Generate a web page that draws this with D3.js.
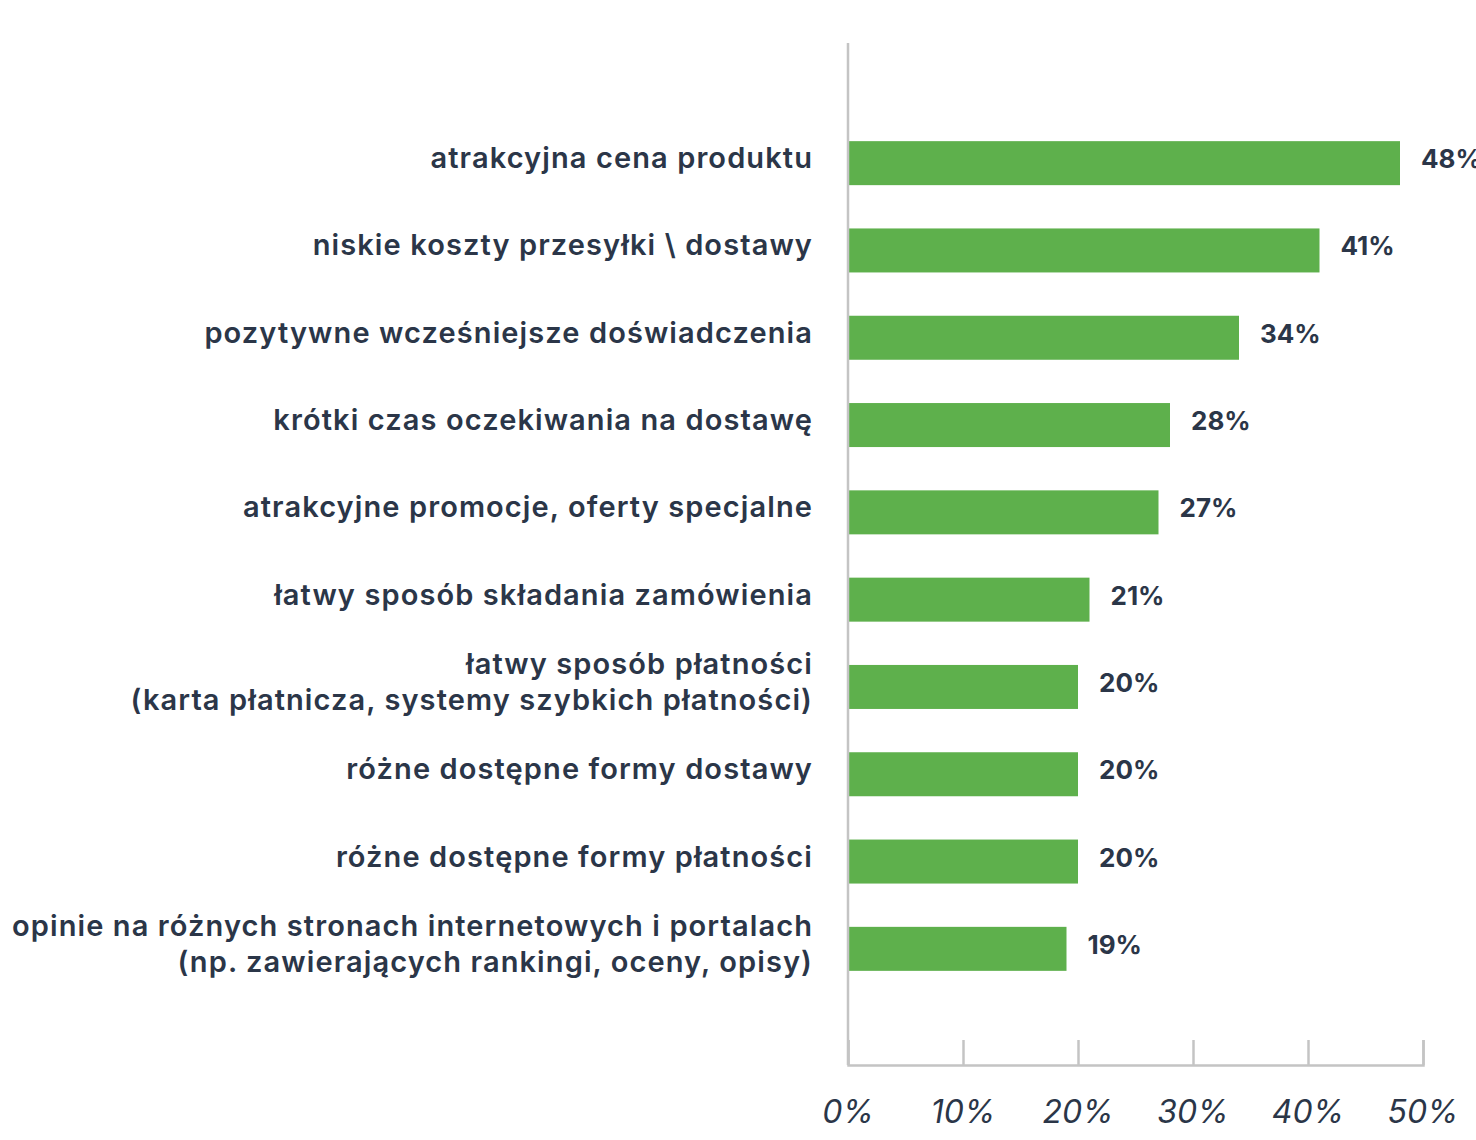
<!DOCTYPE html>
<html>
<head>
<meta charset="utf-8">
<script src="https://cdn.jsdelivr.net/npm/d3@7"></script>
<style>
  body { margin: 0; background: #fff; }
  svg text { font-family: Inter, "Open Sans", sans-serif; }
</style>
</head>
<body>
<div id="chart"></div>
<script>
const categories = [
  ["atrakcyjna cena produktu"],
  ["niskie koszty przesyłki \\ dostawy"],
  ["pozytywne wcześniejsze doświadczenia"],
  ["krótki czas oczekiwania na dostawę"],
  ["atrakcyjne promocje, oferty specjalne"],
  ["łatwy sposób składania zamówienia"],
  ["łatwy sposób płatności", "(karta płatnicza, systemy szybkich płatności)"],
  ["różne dostępne formy dostawy"],
  ["różne dostępne formy płatności"],
  ["opinie na różnych stronach internetowych i portalach", "(np. zawierających rankingi, oceny, opisy)"]
];
const values = [48, 41, 34, 28, 27, 21, 20, 20, 20, 19];
const tickValues = [0, 10, 20, 30, 40, 50];

const width = 1476, height = 1140;
const textColor = "#2b3648";
const axisColor = "#c4c4c4";

const svg = d3.select("#chart").append("svg")
  .attr("width", width)
  .attr("height", height);

const x = d3.scaleLinear().domain([0, 50]).range([848, 1423]);
const y = d3.scaleBand()
  .domain(d3.range(categories.length))
  .range([119.5, 992.5])
  .paddingInner(0.496)
  .paddingOuter(0.248);

// bars
svg.append("g")
  .selectAll("rect")
  .data(values)
  .join("rect")
  .attr("x", x(0))
  .attr("y", (d, i) => y(i))
  .attr("width", d => x(d) - x(0))
  .attr("height", y.bandwidth())
  .attr("fill", "#5eb04c");

// value labels
svg.append("g")
  .selectAll("text")
  .data(values)
  .join("text")
  .attr("x", d => x(d) + 21)
  .attr("y", (d, i) => y(i) + y.bandwidth() / 2 + 5)
  .attr("fill", textColor)
  .attr("font-size", 26)
  .attr("font-weight", 700)
  .text(d => d + "%");

// category labels
const lab = svg.append("g")
  .selectAll("text")
  .data(categories)
  .join("text")
  .attr("text-anchor", "end")
  .attr("fill", textColor)
  .attr("font-size", 29)
  .attr("font-weight", 600)
  .attr("letter-spacing", 1.1)
  .attr("y", (d, i) => y(i) + y.bandwidth() / 2 + 5 - (d.length - 1) * 18);

lab.selectAll("tspan")
  .data(d => d)
  .join("tspan")
  .attr("x", 813)
  .attr("dy", (d, i) => i === 0 ? 0 : 36)
  .text(d => d);

// vertical axis line
svg.append("line")
  .attr("x1", x(0)).attr("x2", x(0))
  .attr("y1", 43).attr("y2", 1065)
  .attr("stroke", axisColor)
  .attr("stroke-width", 2.5);

// bottom axis
const xAxis = svg.append("g")
  .attr("transform", "translate(0,1065)")
  .call(d3.axisTop(x).tickValues(tickValues).tickSize(25).tickFormat(""));
xAxis.select(".domain").attr("stroke", axisColor).attr("stroke-width", 2.5);
xAxis.selectAll(".tick line").attr("stroke", axisColor).attr("stroke-width", 2.5);

svg.append("g")
  .selectAll("text")
  .data(tickValues)
  .join("text")
  .attr("x", d => x(d))
  .attr("y", 1123)
  .attr("text-anchor", "middle")
  .attr("fill", textColor)
  .attr("font-size", 32)
  .attr("font-style", "italic")
  .text(d => d + "%");
</script>
</body>
</html>
